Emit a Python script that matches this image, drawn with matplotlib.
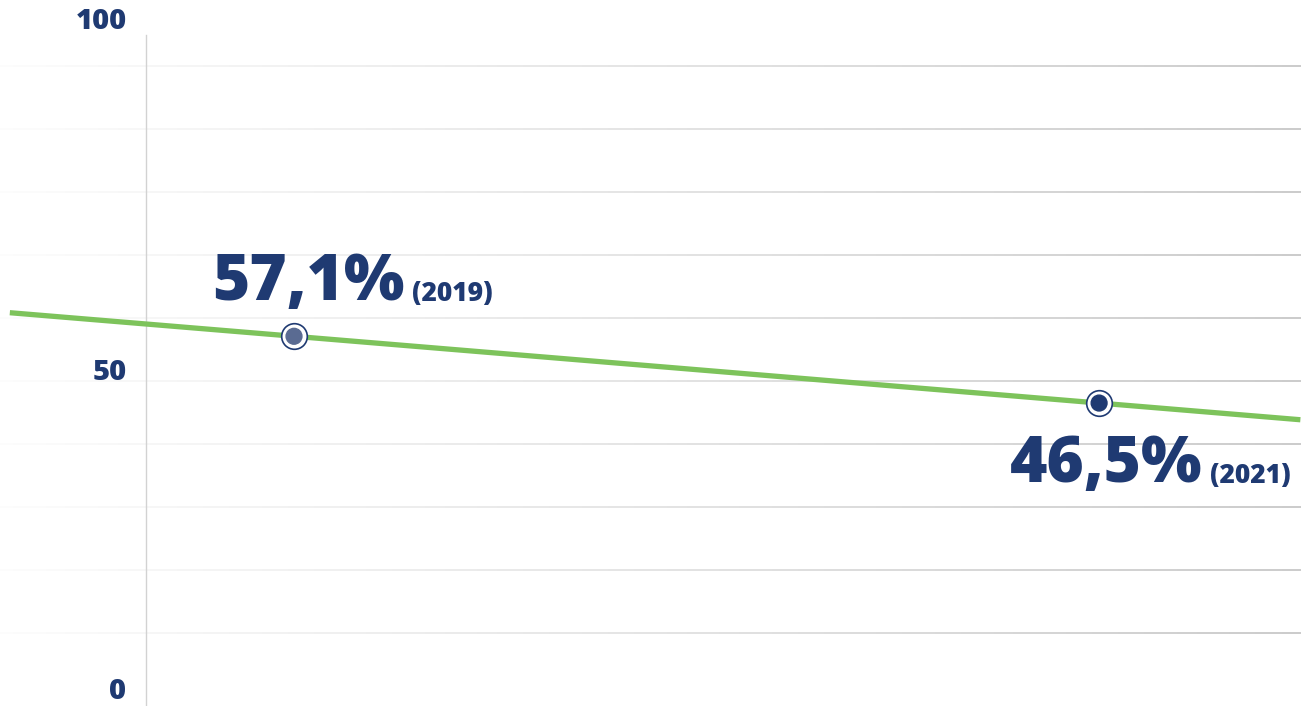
import matplotlib.pyplot as plt
import numpy as np
from matplotlib.collections import LineCollection

# data
years = [2019, 2021]
shares = [57.1, 46.5]
value_labels = ['57,1%', '46,5%']
year_labels = ['(2019)', '(2021)']
grid_values = list(range(10, 101, 10))
tick_labels = ['100', '50', '0']

navy = '#1f3a72'
green = '#7dc35b'

plt.rcParams['font.family'] = ['Open Sans', 'DejaVu Sans']

fig = plt.figure(figsize=(13.04, 7.06), dpi=100)
ax = fig.add_axes([0, 0, 1, 1])
x0, x1 = 2018.2696, 2021.509
ax.set_xlim(x0, x1)
ax.set_ylim(-1.59, 110.48)
ax.axis('off')

# grid lines that fade out towards the left
xs = np.linspace(x0, 2021.502, 200)
alphas = np.linspace(0.05, 1.0, len(xs) - 1)
for v in grid_values:
    pts = np.column_stack([xs, np.full_like(xs, v)])
    segs = np.stack([pts[:-1], pts[1:]], axis=1)
    cols = [(0.78, 0.78, 0.78, a) for a in alphas]
    ax.add_collection(LineCollection(segs, colors=cols, linewidths=1.3, zorder=1))

# vertical axis line
ax.plot([2018.632, 2018.632], [-2, 105], color='#d2d2d2', lw=1.0, zorder=1)

# y labels
for lab, yf in zip(tick_labels, [0.969, 0.473, 0.02]):
    ax.text(0.097, yf, lab, transform=ax.transAxes, ha='right', va='center',
            fontsize=21, fontweight='heavy', color=navy)

# trend line through the points, extended past them
coef = np.polyfit(years, shares, 1)
xl = np.array([2018.294, 2021.5])
ax.plot(xl, np.polyval(coef, xl), color=green, lw=3.8, solid_capstyle='butt', zorder=2)

# markers
ax.scatter(years, shares, s=340, facecolor='white', edgecolor=navy, linewidth=1.2, zorder=3)
ax.scatter(years, shares, s=130, color=['#5a6b92', navy], zorder=4)

# value labels
offsets = [(-59, 26), (-64, -57)]
for x, y, vl, yl, off in zip(years, shares, value_labels, year_labels, offsets):
    t = ax.annotate(vl, (x, y), xytext=off, textcoords='offset points',
                    ha='left', va='baseline', fontsize=46, fontweight='heavy',
                    color=navy, zorder=5)
    ax.annotate(yl, xy=(1, 0), xycoords=t, xytext=(5, 6), textcoords='offset points',
                ha='left', va='bottom', fontsize=19, fontweight='heavy',
                color=navy, zorder=5)

fig.savefig('out.png', dpi=100)
